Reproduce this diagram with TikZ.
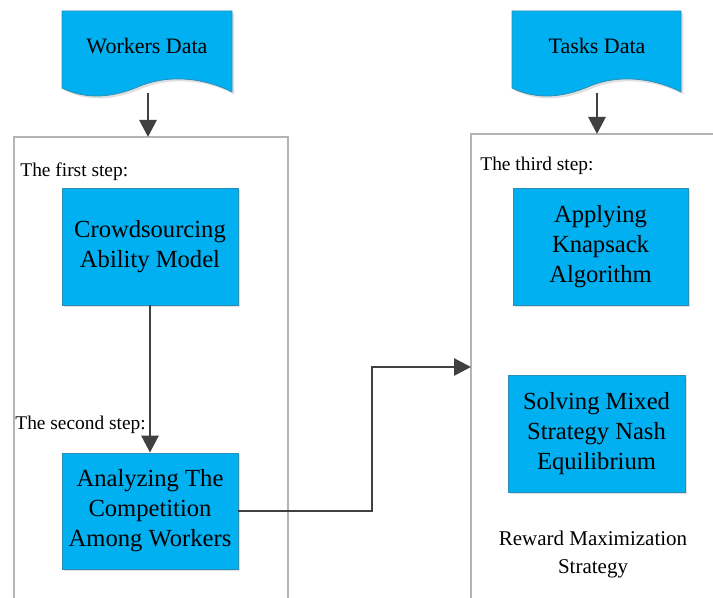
\documentclass[tikz,border=0pt]{standalone}
\usepackage{fontspec}
\setmainfont{Liberation Serif}
\usetikzlibrary{arrows.meta,shadows}

\definecolor{boxblue}{HTML}{00B0F0}
\definecolor{boxedge}{HTML}{2A8FB8}
\definecolor{lineg}{HTML}{404040}
\definecolor{frameg}{HTML}{B4B4B4}

\begin{document}
\begin{tikzpicture}[x=0.5pt,y=-0.5pt,
    proc/.style = {draw=boxedge, fill=boxblue, line width=0.4pt, align=center,
                   font=\fontsize{12.3}{15}\selectfont, inner sep=0pt,
                   drop shadow={shadow xshift=1.2pt, shadow yshift=-1.2pt, opacity=0.25}},
    doc/.style = {draw=boxedge, fill=boxblue, line width=0.4pt,
                  drop shadow={shadow xshift=1.2pt, shadow yshift=-1.2pt, opacity=0.25}},
    frame/.style = {draw=frameg, line width=0.8pt},
    steplbl/.style = {anchor=west, inner sep=0pt, font=\fontsize{9.7}{11}\selectfont},
    flow/.style = {draw=lineg, line width=1.4pt, -{Triangle[length=8.5pt,width=8.5pt]}}]
        \useasboundingbox (0,0) rectangle (713,598);
        % document shapes
        \path[doc] (62,11) -- (232,11) -- (232,92)
            .. controls (205,78) and (170,74) .. (140,86)
            .. controls (110,99) and (85,99) .. (62,88) -- cycle;
        \path[doc] (512,11) -- (681,11) -- (681,92)
            .. controls (654,78) and (619,74) .. (590,86)
            .. controls (560,99) and (535,99) .. (512,88) -- cycle;
        \node (wdata) at (147,46) {\fontsize{11}{13}\selectfont Workers Data};
        \node (tdata) at (597,46) {\fontsize{11}{13}\selectfont Tasks Data};
        \coordinate (wout) at (148,93);
        \coordinate (tout) at (597,93);
        % step frames
        \draw[frame] (14,598) -- (14,137) -- (288,137) -- (288,598);
        \draw[frame] (471,598) -- (471,134) -- (713,134);
        \coordinate (win) at (148,137);
        \coordinate (tin) at (597,134);
        \coordinate (rin) at (471,367);
        \node[steplbl] (lbl1) at (20,172) {The first step:};
        \node[steplbl] (lbl2) at (15,425) {The second step:};
        \node[steplbl] (lbl3) at (480,166) {The third step:};
        % process boxes
        \node[proc, minimum width=88pt, minimum height=58.5pt] (ability) at (150,246.5) {Crowdsourcing\\Ability Model};
        \node[proc, minimum width=88pt, minimum height=58pt] (compete) at (150,511) {Analyzing The\\Competition\\Among Workers};
        \node[proc, minimum width=87.5pt, minimum height=58.5pt] (knapsack) at (600.5,246.5) {Applying\\Knapsack\\Algorithm};
        \node[proc, minimum width=88.5pt, minimum height=58.5pt] (nash) at (596.5,433.5) {Solving Mixed\\Strategy Nash\\Equilibrium};
        \node[align=center, font=\fontsize{10.5}{14}\selectfont] (reward) at (593,554) {Reward Maximization\\Strategy};
        % connectors
        \draw[flow] (wout) -- (win);
        \draw[flow] (tout) -- (tin);
        \draw[flow] (ability) -- (compete);
        \draw[flow] (compete.east) -- (372,511) |- (rin);
\end{tikzpicture}
\end{document}
